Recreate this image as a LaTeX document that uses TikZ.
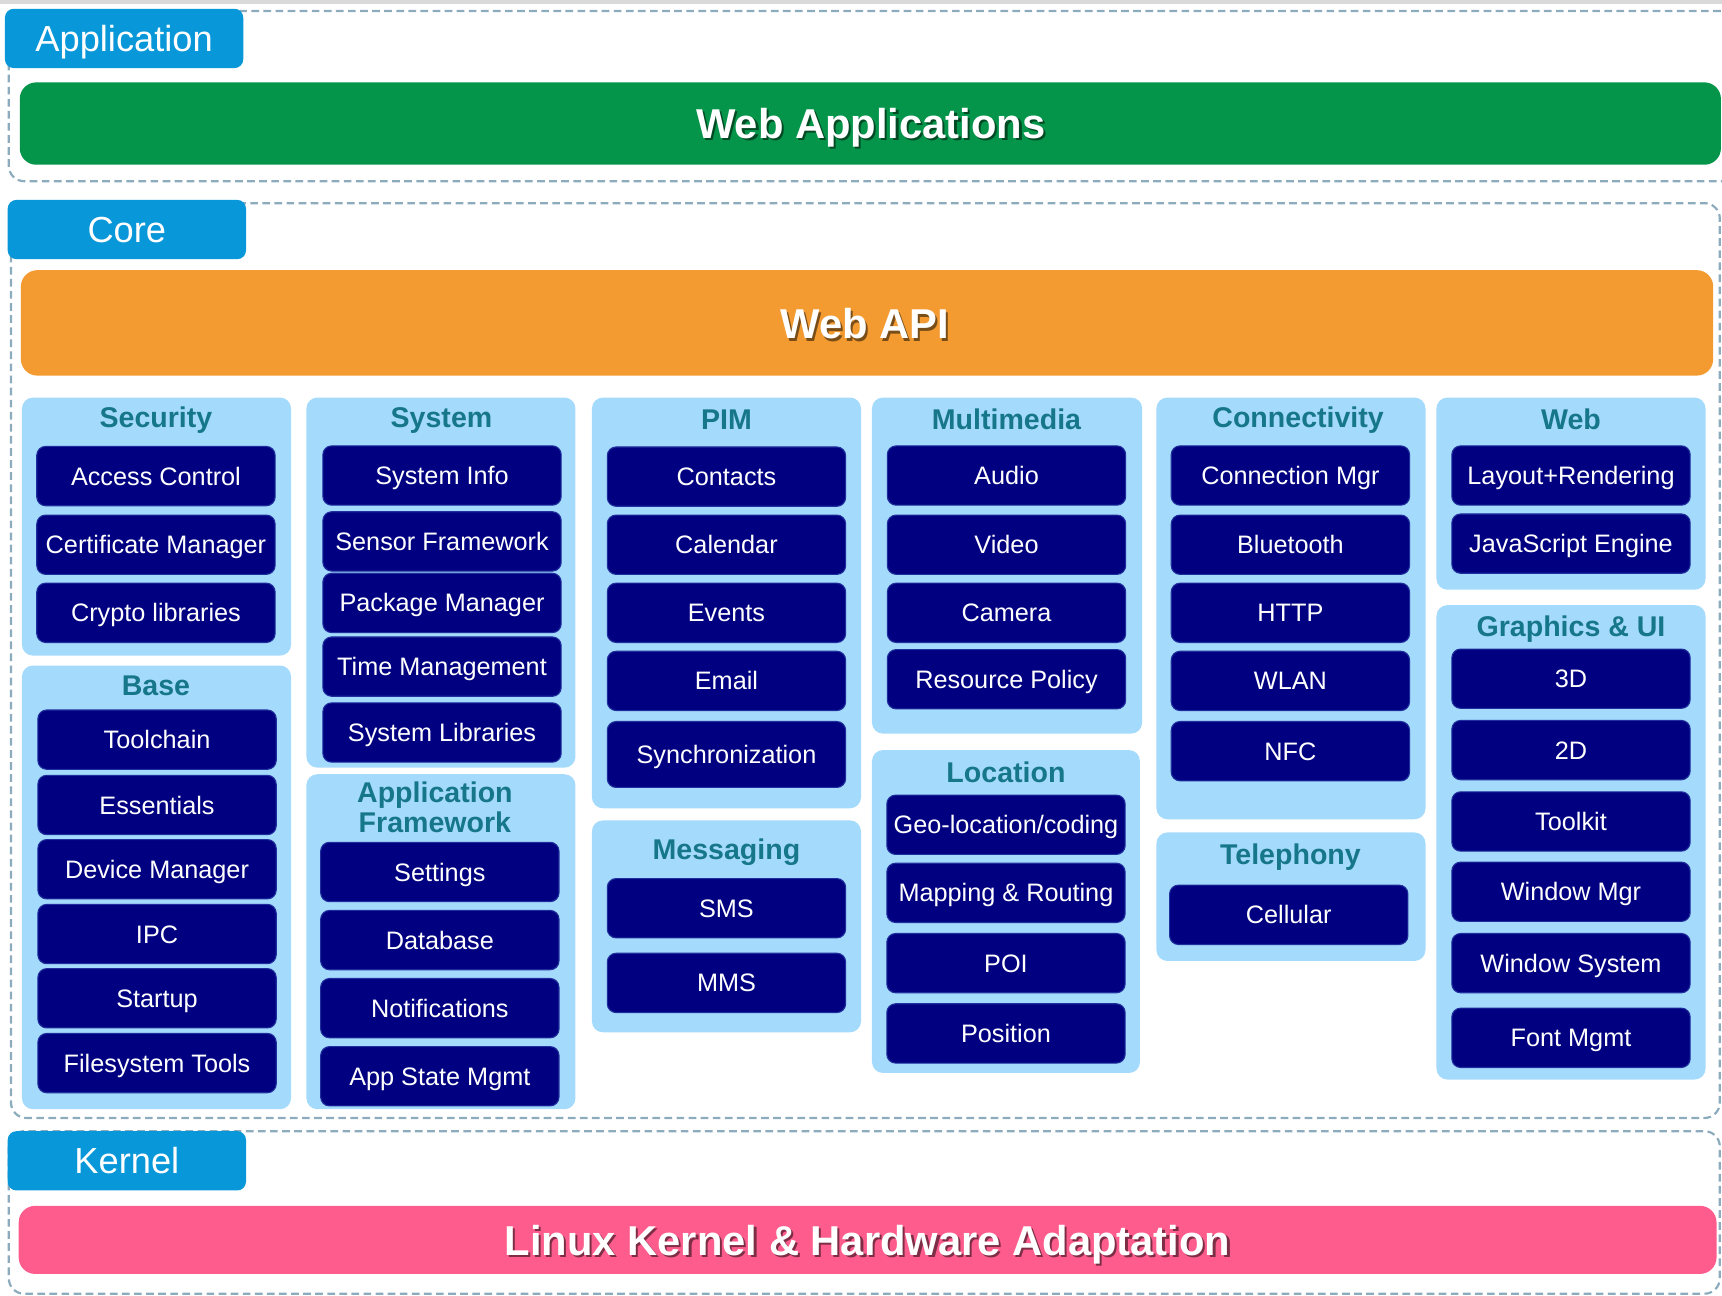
\documentclass[tikz,border=0pt]{standalone}
\usepackage{fontspec}
\setmainfont{Liberation Sans}
\definecolor{panelblue}{HTML}{A4DAFC}
\definecolor{navy}{HTML}{000080}
\definecolor{navyedge}{HTML}{1F2E9C}
\definecolor{teal}{HTML}{17778A}
\definecolor{labelblue}{HTML}{0897D9}
\definecolor{appgreen}{HTML}{04954A}
\definecolor{apiorange}{HTML}{F39B30}
\definecolor{kernpink}{HTML}{FE5C8D}
\definecolor{dashcol}{HTML}{8CACBD}
\definecolor{topgray}{HTML}{D9D9D9}
\tikzset{
  panel/.style={fill=panelblue, draw=none, rounded corners=10pt, inner sep=0pt},
  item/.style={fill=navy, draw=navyedge, line width=1pt, rounded corners=8pt,
    minimum width=217pt, minimum height=54pt, inner sep=0pt, text=white,
    text height=16.5pt, text depth=0pt,
    font=\fontsize{23}{26}\selectfont},
  ttl/.style={text=teal, font=\bfseries\fontsize{26}{29}\selectfont, inner sep=0pt, align=center},
  ttl1/.style={ttl, text height=18.6pt, text depth=0pt},
  glabel/.style={fill=labelblue, rounded corners=8pt, text=white, inner sep=0pt,
    text height=23.6pt, text depth=0pt,
    minimum width=217pt, minimum height=54pt, font=\fontsize{33}{38}\selectfont},
  bar/.style={rounded corners=15pt, inner sep=0pt, draw=none},
  bigtxt/.style={text=white, font=\bfseries\fontsize{38}{44}\selectfont, inner sep=0pt,
    text height=27.2pt, text depth=0pt},
  bigshadow/.style={bigtxt, text=black, opacity=0.5},
  grp/.style={draw=dashcol, line width=2pt, dash pattern=on 7pt off 4pt, rounded corners=14pt},
}
\newcommand\mkbox[6]{%
  \pgfmathsetmacro\mywd{#5-#3}\pgfmathsetmacro\myht{#6-#4}%
  \node[#2, minimum width=\mywd pt, minimum height=\myht pt] (#1) at ({(#3+#5)/2},{(#4+#6)/2}) {};}
\begin{document}
\begin{tikzpicture}[x=1pt,y=-1pt]
\useasboundingbox (0,0) rectangle (1568,1180);
\fill[topgray] (0,0) rectangle (1568,4);

% ---------- group frames ----------
\draw[grp] (8,10) rectangle (1600,165);
\draw[grp] (10,185) rectangle (1566,1018);
\draw[grp] (8,1030) rectangle (1566,1178);

% ---------- group labels ----------
\node[glabel] (lapp) at (113,35) {Application};
\node[glabel] (lcore) at (115.5,209) {Core};
\node[glabel] (lkern) at (115.5,1057) {Kernel};

% ---------- bars ----------
\mkbox{webappsbar}{bar, fill=appgreen}{18}{75}{1567}{150}
\node[bigshadow] (webappssh) at (795,114.5) {Web Applications};
\node[bigtxt] (webapps) at (793,112.5) {Web Applications};

\mkbox{webapibar}{bar, fill=apiorange}{19}{246}{1560}{342}
\node[bigshadow] (webapish) at (789.5,297) {Web API};
\node[bigtxt] (webapi) at (787.5,295) {Web API};

\mkbox{kernbar}{bar, fill=kernpink}{17}{1098}{1563}{1160}
\node[bigshadow] (kernsh) at (792,1131.5) {Linux Kernel \& Hardware Adaptation};
\node[bigtxt] (kern) at (790,1129.5) {Linux Kernel \& Hardware Adaptation};

% ---------- panels ----------
\mkbox{security}{panel}{20}{362}{265}{597}
\mkbox{base}{panel}{20}{606}{265}{1010}
\mkbox{system}{panel}{279}{362}{524}{699}
\mkbox{appfw}{panel}{279}{705}{524}{1010}
\mkbox{pim}{panel}{539}{362}{784}{736}
\mkbox{messaging}{panel}{539}{747}{784}{940}
\mkbox{multimedia}{panel}{794}{362}{1040}{668}
\mkbox{location}{panel}{794}{683}{1038}{977}
\mkbox{connectivity}{panel}{1053}{362}{1298}{746}
\mkbox{telephony}{panel}{1053}{758}{1298}{875}
\mkbox{web}{panel}{1308}{362}{1553}{537}
\mkbox{graphics}{panel}{1308}{551}{1553}{983}

% ---------- titles ----------
\node[ttl1] (tsec) at (142,380) {Security};
\node[ttl1] (tbase) at (142,624) {Base};
\node[ttl1] (tsys) at (402,380) {System};
\node[ttl] (tafw) at (396,735) {Application\\[-2pt]Framework};
\node[ttl1] (tpim) at (661.5,382) {PIM};
\node[ttl1] (tmsg) at (661.5,773) {Messaging};
\node[ttl1] (tmm) at (916.5,382) {Multimedia};
\node[ttl1] (tloc) at (916,703) {Location};
\node[ttl1] (tcon) at (1182,380) {Connectivity};
\node[ttl1] (ttel) at (1175,778) {Telephony};
\node[ttl1] (tweb) at (1430.5,382) {Web};
\node[ttl1] (tgfx) at (1430.5,570) {Graphics \& UI};

% ---------- Security ----------
\node[item] (s1) at (142,433.5) {Access Control};
\node[item] (s2) at (142,496) {Certificate Manager};
\node[item] (s3) at (142,558) {Crypto libraries};
% ---------- Base ----------
\node[item] (b1) at (143,673.5) {Toolchain};
\node[item] (b2) at (143,733) {Essentials};
\node[item] (b3) at (143,791.5) {Device Manager};
\node[item] (b4) at (143,850.5) {IPC};
\node[item] (b5) at (143,909) {Startup};
\node[item] (b6) at (143,968) {Filesystem Tools};
% ---------- System ----------
\node[item] (y1) at (402.5,433) {System Info};
\node[item] (y2) at (402.5,493) {Sensor Framework};
\node[item] (y3) at (402.5,549) {Package Manager};
\node[item] (y4) at (402.5,607) {Time Management};
\node[item] (y5) at (402.5,667) {System Libraries};
% ---------- Application Framework ----------
\node[item] (f1) at (400.5,794) {Settings};
\node[item] (f2) at (400.5,856) {Database};
\node[item] (f3) at (400.5,918) {Notifications};
\node[item] (f4) at (400.5,980) {App State Mgmt};
% ---------- PIM ----------
\node[item] (p1) at (661.5,434) {Contacts};
\node[item] (p2) at (661.5,496) {Calendar};
\node[item] (p3) at (661.5,558) {Events};
\node[item] (p4) at (661.5,620) {Email};
\node[item, minimum height=60pt] (p5) at (661.5,687) {Synchronization};
% ---------- Messaging ----------
\node[item] (m1) at (661.5,827) {SMS};
\node[item] (m2) at (661.5,895) {MMS};
% ---------- Multimedia ----------
\node[item] (u1) at (916.5,433) {Audio};
\node[item] (u2) at (916.5,496) {Video};
\node[item] (u3) at (916.5,558) {Camera};
\node[item] (u4) at (916.5,618.5) {Resource Policy};
% ---------- Location ----------
\node[item] (l1) at (916,751) {Geo-location/coding};
\node[item] (l2) at (916,813) {Mapping \& Routing};
\node[item] (l3) at (916,877) {POI};
\node[item] (l4) at (916,941) {Position};
% ---------- Connectivity ----------
\node[item] (c1) at (1175,433) {Connection Mgr};
\node[item] (c2) at (1175,496) {Bluetooth};
\node[item] (c3) at (1175,558) {HTTP};
\node[item] (c4) at (1175,620) {WLAN};
\node[item] (c5) at (1175,684) {NFC};
% ---------- Telephony ----------
\node[item] (t1) at (1173.5,833) {Cellular};
% ---------- Web ----------
\node[item] (w1) at (1430.5,433) {Layout+Rendering};
\node[item] (w2) at (1430.5,495) {JavaScript Engine};
% ---------- Graphics & UI ----------
\node[item] (g1) at (1430.5,618) {3D};
\node[item] (g2) at (1430.5,683) {2D};
\node[item] (g3) at (1430.5,748) {Toolkit};
\node[item] (g4) at (1430.5,812) {Window Mgr};
\node[item] (g5) at (1430.5,877) {Window System};
\node[item] (g6) at (1430.5,945) {Font Mgmt};
\end{tikzpicture}
\end{document}
